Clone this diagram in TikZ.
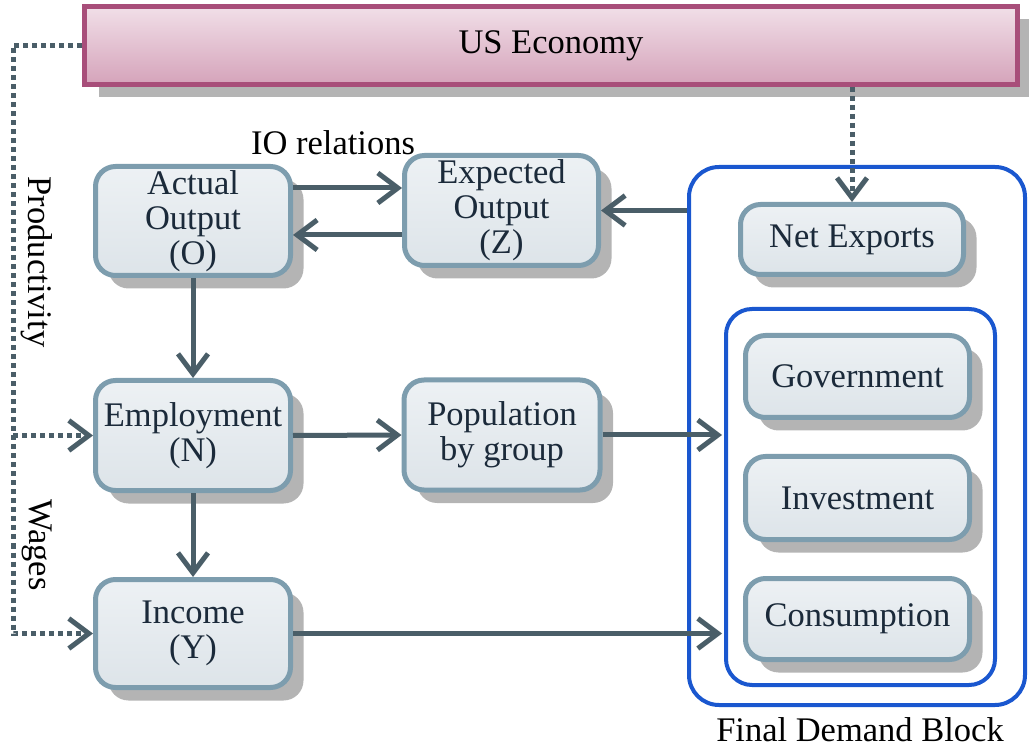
\documentclass[tikz,border=0pt]{standalone}
\usepackage{fontspec}
\setmainfont{Liberation Serif}
\usetikzlibrary{arrows.meta,shadows}
\definecolor{boxtop}{HTML}{EDF1F4}
\definecolor{boxbot}{HTML}{DDE4E9}
\definecolor{boxline}{HTML}{7D9DAE}
\definecolor{ustop}{HTML}{F1DFE8}
\definecolor{usbot}{HTML}{D5A3BA}
\definecolor{usline}{HTML}{A84E7A}
\definecolor{arrcol}{HTML}{4A5E68}
\definecolor{blueline}{HTML}{1A57CF}
\definecolor{shadowgray}{HTML}{B4B4B4}
\definecolor{txt}{HTML}{1B2A3A}
\tikzset{
  box/.style={draw=boxline, line width=5pt, rounded corners=20pt, top color=boxtop, bottom color=boxbot,
    align=center, inner sep=0pt, text=txt,
    drop shadow={shadow xshift=13pt, shadow yshift=-13pt, fill=shadowgray, opacity=1}},
  usbox/.style={draw=usline, line width=5pt, top color=ustop, bottom color=usbot, inner sep=0pt,
    drop shadow={shadow xshift=14pt, shadow yshift=-13pt, fill=shadowgray, opacity=1}},
  group/.style={draw=blueline, line width=4pt, inner sep=0pt},
  arr/.style={draw=arrcol, line width=5pt, -{Straight Barb[length=20pt,width=30pt,line width=5pt]}},
  dotarr/.style={draw=arrcol, line width=5pt, dash pattern=on 5pt off 4pt,
    -{Straight Barb[length=20pt,width=30pt,line width=5pt]}},
  lab/.style={inner sep=0pt, text=black}
}
\begin{document}
\begin{tikzpicture}[x=1pt,y=-1pt, font=\fontsize{34.5}{35}\selectfont]
\useasboundingbox (0,0) rectangle (1029,751);
% group boxes
\node[group, rounded corners=30pt, minimum width=336pt, minimum height=538pt] (fd) at (857,436) {};
\node[group, rounded corners=26pt, minimum width=269pt, minimum height=376pt] (inner) at (860.5,497) {};
% US economy
\node[usbox, minimum width=933pt, minimum height=78pt] (us) at (551,45.5) {US Economy};
% boxes
\node[box, minimum width=195pt, minimum height=109pt] (act) at (193,221) {Actual\\Output\\(O)};
\node[box, minimum width=194pt, minimum height=110pt] (exp) at (501.5,210.5) {Expected\\Output\\(Z)};
\node[box, minimum width=195pt, minimum height=110pt] (emp) at (193,435.5) {Employment\\(N)};
\node[box, minimum width=196pt, minimum height=110pt] (pop) at (502,435) {Population\\by group};
\node[box, minimum width=195pt, minimum height=108pt] (inc) at (193,633.5) {Income\\(Y)};
\node[box, minimum width=223pt, minimum height=70pt] (ne) at (852,239.5) {Net Exports};
\node[box, minimum width=224pt, minimum height=82pt] (gov) at (857.5,376.5) {Government};
\node[box, minimum width=224pt, minimum height=83pt] (inv) at (857.5,498) {Investment};
\node[box, minimum width=224pt, minimum height=81pt] (con) at (857.5,619) {Consumption};
% labels
\node[lab] (io) at (333,143) {IO relations};
\node[lab] (fdl) at (860,730) {Final Demand Block};
\node[lab, rotate=-90] (prod) at (37,262) {Productivity};
\node[lab, rotate=-90] (wag) at (37,545) {Wages};
% arrows
\coordinate (a1) at ([yshift=33pt]act.east);
\draw[arr] (a1) -- (a1 -| exp.west);
\coordinate (a2) at ([yshift=-14pt]act.east);
\draw[arr] (a2 -| exp.west) -- (a2);
\draw[arr] (exp.east -| fd.west) -- (exp.east);
\draw[arr] (act.south) -- (emp.north);
\draw[arr] (emp.south) -- (inc.north);
\draw[arr] (emp.east) -- (pop.west);
\draw[arr] (pop.east) -- ([xshift=-2pt]pop.east -| inner.west);
\draw[arr] (inc.east) -- ([xshift=-2pt]inc.east -| inner.west);
% dotted
\coordinate (dl) at (13,45.5);
\draw[dotarr] (us.west) -- (dl) |- (inc.west);
\draw[dotarr] (dl |- emp.west) -- (emp.west);
\draw[dotarr] (us.south -| ne.north) -- (ne.north);
\end{tikzpicture}
\end{document}
